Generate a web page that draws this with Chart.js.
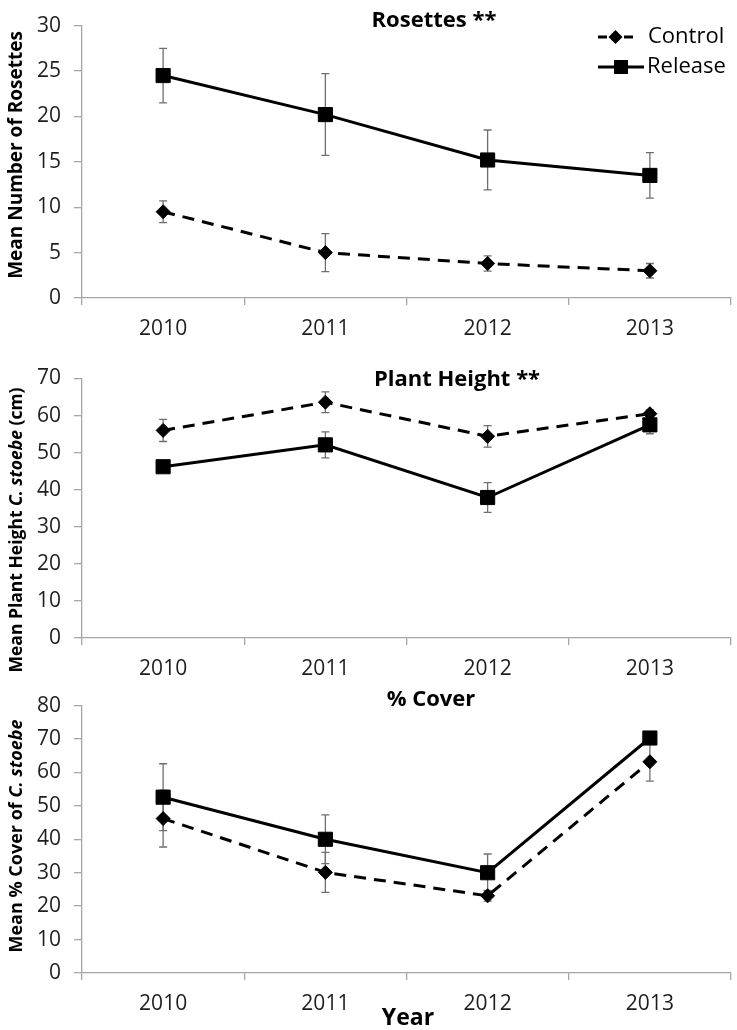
<!DOCTYPE html>
<html>
<head>
<meta charset="utf-8">
<script src="https://cdn.jsdelivr.net/npm/chart.js@4.4.1/dist/chart.umd.min.js"></script>
<style>
    html, body {margin: 0; padding: 0; background: #fff; overflow: hidden; width: 737px; height: 1030px;}
    .panel {position: absolute; left: 0;}
</style>
</head>
<body>
<div class="panel" style="top:0"><canvas id="c1" width="742" height="340"></canvas></div>
<div class="panel" style="top:340px"><canvas id="c2" width="742" height="340"></canvas></div>
<div class="panel" style="top:680px"><canvas id="c3" width="742" height="350"></canvas></div>
<script>
    // values (means and error bar half-lengths)
    var years = ['2010', '2011', '2012', '2013'];

    var rosettesControl = [9.5, 5.0, 3.8, 3.0];
    var rosettesControlErr = [1.2, 2.1, 0.85, 0.8];
    var rosettesRelease = [24.5, 20.2, 15.2, 13.5];
    var rosettesReleaseErr = [3.0, 4.5, 3.3, 2.5];

    var heightControl = [56.0, 63.6, 54.4, 60.5];
    var heightControlErr = [3.0, 2.8, 2.9, 1.0];
    var heightRelease = [46.2, 52.1, 37.9, 57.5];
    var heightReleaseErr = [0.8, 3.5, 4.0, 2.4];

    var coverControl = [46.2, 30.1, 23.1, 63.2];
    var coverControlErr = [8.5, 6.0, 1.6, 5.8];
    var coverRelease = [52.6, 40.0, 30.0, 70.3];
    var coverReleaseErr = [10.0, 7.3, 5.6, 1.5];

    var FONT = "'Open Sans', sans-serif";
    var AXIS_GREY = '#a6a6a6';
    var ERR_GREY = '#6f6f6f';

    Chart.defaults.font.family = FONT;
    Chart.defaults.color = '#1e1e1e';

    function fontStr(p, size) {
        return (p.italic ? 'italic ' : '') + 'bold ' + size + 'px ' + FONT;
    }

    // vertical error bars, drawn under the markers
    var errorBars = {
        id: 'errorBars',
        beforeDatasetsDraw: function (chart, args, opts) {
            let ctx = chart.ctx;
            let xs = chart.scales.x, ys = chart.scales.y;
            ctx.save();
            ctx.strokeStyle = ERR_GREY;
            ctx.lineWidth = 1.3;
            chart.data.datasets.forEach(function (ds, i) {
                let errs = opts.errs[i];
                ds.data.forEach(function (v, j) {
                    let x = xs.getPixelForValue(j);
                    let yTop = ys.getPixelForValue(v + errs[j]);
                    let yBot = ys.getPixelForValue(v - errs[j]);
                    ctx.beginPath();
                    ctx.moveTo(x, yTop); ctx.lineTo(x, yBot);
                    ctx.moveTo(x - 4, yTop); ctx.lineTo(x + 4, yTop);
                    ctx.moveTo(x - 4, yBot); ctx.lineTo(x + 4, yBot);
                    ctx.stroke();
                });
            });
            ctx.restore();
        }
    };

    // panel title, rotated y title (mixed italic), optional x title and legend
    var panelText = {
        id: 'panelText',
        afterDraw: function (chart, args, opts) {
            let ctx = chart.ctx;
            ctx.save();
            ctx.fillStyle = '#000';
            ctx.textBaseline = 'middle';
            ctx.textAlign = 'center';
            ctx.font = 'bold 22px ' + FONT;
            ctx.fillText(opts.title, opts.titleX, opts.titleY);

            if (opts.xTitle) {
                ctx.font = 'bold 23px ' + FONT;
                ctx.fillText(opts.xTitle, opts.xTitleX, opts.xTitleY);
            }

            if (opts.legend) {
                ctx.textAlign = 'left';
                ctx.font = '22px ' + FONT;
                ctx.strokeStyle = '#000';
                ctx.lineWidth = 3;
                opts.legend.forEach(function (item) {
                    let y = item.y;
                    ctx.setLineDash(item.dash);
                    ctx.beginPath();
                    ctx.moveTo(item.x0, y); ctx.lineTo(item.x1, y);
                    ctx.stroke();
                    ctx.setLineDash([]);
                    let mx = (item.x0 + item.x1) / 2;
                    ctx.beginPath();
                    if (item.shape === 'diamond') {
                        ctx.moveTo(mx, y - 7); ctx.lineTo(mx + 7, y);
                        ctx.lineTo(mx, y + 7); ctx.lineTo(mx - 7, y);
                        ctx.closePath();
                    } else {
                        ctx.rect(mx - 7, y - 7, 14, 14);
                    }
                    ctx.fill();
                    ctx.fillText(item.text, item.tx, y);
                });
            }

            let parts = opts.yTitle;
            let size = opts.yTitleSize;
            let total = 0;
            parts.forEach(function (p) {
                ctx.font = fontStr(p, size);
                p.w = ctx.measureText(p.text).width;
                total += p.w;
            });
            ctx.translate(opts.yTitleX, opts.yTitleY);
            ctx.rotate(-Math.PI / 2);
            ctx.textAlign = 'left';
            let x = -total / 2;
            parts.forEach(function (p) {
                ctx.font = fontStr(p, size);
                ctx.fillText(p.text, x, 0);
                x += p.w;
            });
            ctx.restore();
        }
    };

    function makeChart(id, cfg) {
        let axisHeight = cfg.axisHeight;
        return new Chart(document.getElementById(id), {
            type: 'line',
            data: {
                labels: years,
                datasets: [{
                    label: 'Control',
                    data: cfg.control,
                    borderColor: '#000',
                    backgroundColor: '#000',
                    borderWidth: 3,
                    borderDash: [12, 8],
                    pointStyle: 'rectRot',
                    pointRadius: 7,
                    pointBorderWidth: 1,
                    tension: 0,
                }, {
                    label: 'Release',
                    data: cfg.release,
                    borderColor: '#000',
                    backgroundColor: '#000',
                    borderWidth: 3,
                    pointStyle: 'rect',
                    pointRadius: 10,
                    pointBorderWidth: 1,
                    tension: 0,
                }]
            },
            options: {
                responsive: false,
                animation: false,
                devicePixelRatio: 1,
                layout: {padding: {top: cfg.top, right: 1, left: 0, bottom: 0}},
                plugins: {
                    legend: {display: false},
                    tooltip: {enabled: false},
                    title: {display: false},
                    errorBars: {errs: [cfg.controlErr, cfg.releaseErr]},
                    panelText: cfg.text,
                },
                scales: {
                    x: {
                        offset: true,
                        grid: {
                            offset: true,
                            drawOnChartArea: false,
                            color: AXIS_GREY,
                            tickLength: 7,
                            lineWidth: 1.3,
                        },
                        border: {color: AXIS_GREY, width: 1.3},
                        ticks: {font: {size: 21}, padding: 11, maxRotation: 0},
                        afterFit: function (s) { s.height = axisHeight; },
                    },
                    y: {
                        min: 0,
                        max: cfg.max,
                        grid: {
                            drawOnChartArea: false,
                            color: AXIS_GREY,
                            tickLength: 8,
                            lineWidth: 1.3,
                        },
                        border: {color: AXIS_GREY, width: 1.3},
                        ticks: {stepSize: cfg.step, font: {size: 21}, padding: 13},
                        afterFit: function (s) { s.width = 82; },
                    }
                }
            },
            plugins: [errorBars, panelText]
        });
    }

    makeChart('c1', {
        control: rosettesControl, controlErr: rosettesControlErr,
        release: rosettesRelease, releaseErr: rosettesReleaseErr,
        max: 30, step: 5, top: 12, axisHeight: 42,
        text: {
            title: 'Rosettes **', titleX: 434, titleY: 21,
            yTitle: [{text: 'Mean Number of Rosettes'}], yTitleX: 17, yTitleY: 155, yTitleSize: 19,
            legend: [
                {text: 'Control', shape: 'diamond', dash: [9, 17], x0: 598, x1: 633, tx: 648, y: 37},
                {text: 'Release', shape: 'square', dash: [], x0: 598, x1: 644, tx: 647, y: 67},
            ],
        },
    });

    makeChart('c2', {
        control: heightControl, controlErr: heightControlErr,
        release: heightRelease, releaseErr: heightReleaseErr,
        max: 70, step: 10, top: 38.5, axisHeight: 42,
        text: {
            title: 'Plant Height **', titleX: 457, titleY: 40,
            yTitle: [{text: 'Mean Plant Height '}, {text: 'C. stoebe', italic: true}, {text: ' (cm)'}],
            yTitleX: 17, yTitleY: 190, yTitleSize: 17.5,
        },
    });

    makeChart('c3', {
        control: coverControl, controlErr: coverControlErr,
        release: coverRelease, releaseErr: coverReleaseErr,
        max: 80, step: 10, top: 17, axisHeight: 57,
        text: {
            title: '% Cover', titleX: 431, titleY: 20,
            yTitle: [{text: 'Mean % Cover of '}, {text: 'C. stoebe', italic: true}],
            yTitleX: 17, yTitleY: 156, yTitleSize: 18,
            xTitle: 'Year', xTitleX: 408, xTitleY: 338,
        },
    });
</script>
</body>
</html>
